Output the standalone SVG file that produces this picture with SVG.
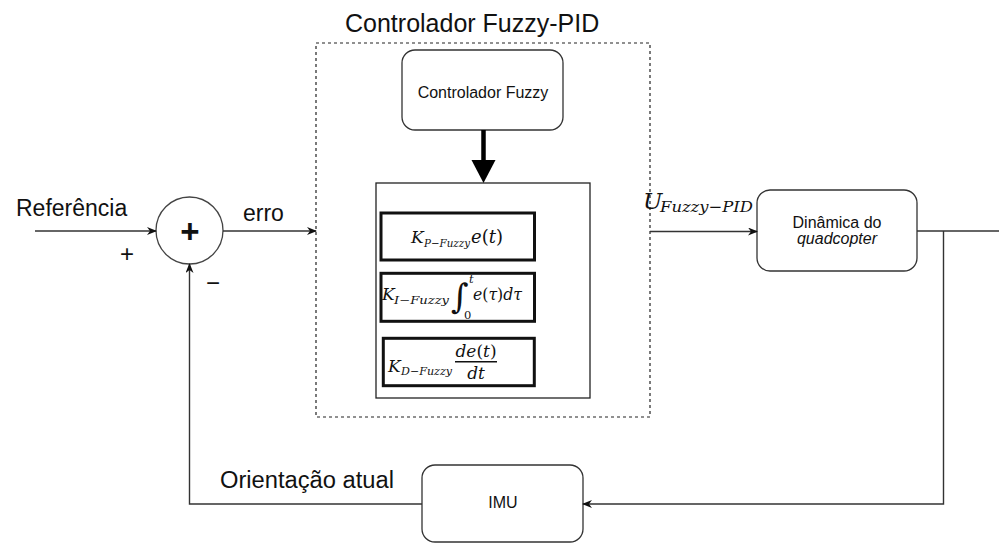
<svg xmlns="http://www.w3.org/2000/svg" width="999" height="543" viewBox="0 0 999 543">
  <style>
    .lbl { font-family: "Liberation Sans", Arial, Helvetica, sans-serif; fill: #111; }
    .big { font-size: 23px; }
    .small { font-size: 16px; text-anchor: middle; }
    .block { fill: #fff; stroke: #333; stroke-width: 1.3; }
    .term { fill: #fff; stroke: #111; stroke-width: 3; }
    .wire { fill: none; stroke: #333; stroke-width: 1.4; }
    .math { font-family: "DejaVu Serif", "Liberation Serif", serif; font-style: italic; fill: #111; }
    .up { font-style: normal; }
  </style>
  <defs>
    <marker id="arrow" viewBox="0 0 10 8" refX="9" refY="4" markerWidth="10" markerHeight="8" markerUnits="userSpaceOnUse" orient="auto">
      <path d="M0,0 L10,4 L0,8 L3,4 Z" fill="#111"/>
    </marker>
  </defs>

  <rect width="999" height="543" fill="#fff"/>

  <!-- Fuzzy-PID controller frame -->
  <g id="fuzzy-pid">
    <rect x="316" y="43" width="334" height="374" fill="none" stroke="#222" stroke-width="1.2" stroke-dasharray="3 3"/>
    <text class="lbl" x="345" y="32" font-size="25">Controlador Fuzzy-PID</text>
  </g>

  <!-- Fuzzy inference block -->
  <g id="fuzzy">
    <rect class="block" x="402" y="50" width="161" height="80" rx="13"/>
    <text class="lbl small" x="483" y="98">Controlador Fuzzy</text>
  </g>

  <!-- PID terms -->
  <g id="pid">
    <rect x="376" y="183" width="214" height="215" fill="#fff" stroke="#222" stroke-width="1.3"/>
  </g>
  <g id="term-p">
    <rect class="term" x="381" y="213" width="153.5" height="47"/>
    <text class="math" x="411" y="243" font-size="17">K</text>
    <text class="math" x="424" y="246.5" font-size="10.5" textLength="46" lengthAdjust="spacingAndGlyphs">P<tspan class="up">−</tspan>Fuzzy</text>
    <text class="math" x="471" y="243" font-size="18">e<tspan class="up">(</tspan>t<tspan class="up">)</tspan></text>
  </g>
  <g id="term-i">
    <rect class="term" x="381" y="273.3" width="153.5" height="48"/>
    <text class="math" x="382" y="300" font-size="17">K</text>
    <text class="math" x="394" y="304" font-size="10.5" textLength="55" lengthAdjust="spacingAndGlyphs">I<tspan class="up">−</tspan>Fuzzy</text>
    <text class="math up" x="451" y="308" font-size="34">∫</text>
    <text class="math" x="469" y="283" font-size="11.5">t</text>
    <text class="math up" x="464" y="319" font-size="11.5">0</text>
    <text class="math" x="473" y="300" font-size="17" textLength="49" lengthAdjust="spacingAndGlyphs">e<tspan class="up">(</tspan>τ<tspan class="up">)</tspan>dτ</text>
  </g>
  <g id="term-d">
    <rect class="term" x="383.3" y="338.3" width="151" height="47.4"/>
    <text class="math" x="388" y="371.5" font-size="17">K</text>
    <text class="math" x="401" y="375" font-size="10.5" textLength="51" lengthAdjust="spacingAndGlyphs">D<tspan class="up">−</tspan>Fuzzy</text>
    <text class="math" x="476" y="356.5" font-size="17" text-anchor="middle">de<tspan class="up">(</tspan>t<tspan class="up">)</tspan></text>
    <line x1="455" y1="361.7" x2="497" y2="361.7" stroke="#111" stroke-width="1.5"/>
    <text class="math" x="476" y="378.5" font-size="17" text-anchor="middle">dt</text>
  </g>

  <!-- Summing junction -->
  <g id="sum">
    <circle cx="189.5" cy="230.5" r="33.5" fill="#fff" stroke="#444" stroke-width="1.3"/>
    <text class="lbl" x="190" y="243" font-size="33" text-anchor="middle" font-weight="bold">+</text>
    <text class="lbl" x="127" y="262" font-size="24" text-anchor="middle">+</text>
    <text class="lbl" x="213" y="291" font-size="24" text-anchor="middle">−</text>
  </g>

  <!-- Plant -->
  <g id="plant">
    <rect class="block" x="757" y="190" width="160" height="81" rx="13"/>
    <text class="lbl small" x="837" y="227.5">Dinâmica do</text>
    <text class="lbl small" x="837" y="244" font-style="italic">quadcopter</text>
  </g>

  <!-- Sensor -->
  <g id="imu">
    <rect class="block" x="422" y="465" width="161" height="77" rx="13"/>
    <text class="lbl small" x="503" y="508">IMU</text>
  </g>

  <!-- Signal labels -->
  <g id="labels">
    <text class="lbl big" x="16" y="216">Referência</text>
    <text class="lbl big" x="243" y="221">erro</text>
    <text class="lbl big" x="220" y="488" textLength="174" lengthAdjust="spacingAndGlyphs">Orientação atual</text>
    <text class="math" x="643" y="209" font-size="23">U</text>
    <text class="math" x="660" y="211.5" font-size="15" textLength="93" lengthAdjust="spacingAndGlyphs">Fuzzy<tspan class="up">−</tspan>PID</text>
  </g>

  <!-- Connectors -->
  <g id="connectors">
    <line class="wire" x1="35" y1="231" x2="156" y2="231" marker-end="url(#arrow)"/>
    <line class="wire" x1="223" y1="231" x2="316" y2="231" marker-end="url(#arrow)"/>
    <line class="wire" x1="650" y1="231.5" x2="757" y2="231.5" marker-end="url(#arrow)"/>
    <line class="wire" x1="917" y1="231" x2="999" y2="231"/>
    <polyline class="wire" points="943.5,231 943.5,504 583,504" marker-end="url(#arrow)"/>
    <polyline class="wire" points="422,504 189.5,504 189.5,264" marker-end="url(#arrow)"/>
    <!-- gain schedule feed -->
    <line x1="483.5" y1="130" x2="483.5" y2="162" stroke="#000" stroke-width="4.5"/>
    <path d="M471.5,160 L495.5,160 L483.5,183 Z" fill="#000"/>
  </g>
</svg>
